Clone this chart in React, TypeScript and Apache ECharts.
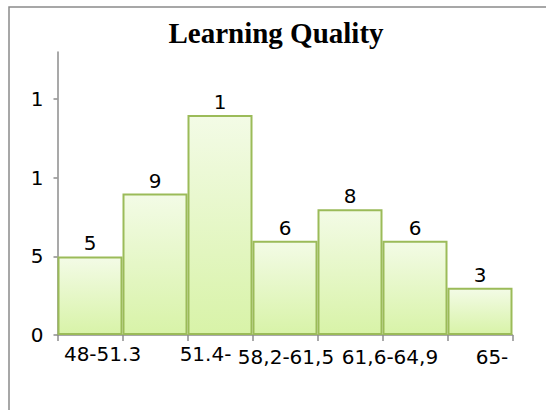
import React, { useEffect, useRef } from "react";
import * as echarts from "echarts";

const titleText = "Learning Quality";
const bins = ["1", "2", "3", "4", "5", "6", "7"];
const tickLabels = ["48-51.3", "", "51.4-", "58,2-61,5", "", "61,6-64,9", "65-"];
const values = [5, 9, 14, 6, 8, 6, 3];
const yTicks = [0, 5, 10, 15];

// per-label nudges [top, right, bottom, left] padding (layout only)
const labelPads: number[][] = [
  [0, 0, 0, 25],
  [3, 0, 0, 0],
  [0, 29, 0, 0],
  [3, 0, 0, 2],
  [3, 0, 0, 0],
  [3, 50, 0, 0],
  [3, 0, 0, 24],
];

export default function App() {
  const ref = useRef<HTMLDivElement>(null);
  useEffect(() => {
    if (!ref.current) return;
    const chart = echarts.init(ref.current, null, { renderer: "svg" });
    const rich: any = {};
    labelPads.forEach((p, i) => {
      rich["r" + i] = {
        padding: p,
        fontFamily: "DejaVu Sans",
        fontSize: 20,
        color: "#000",
      };
    });
    chart.setOption({
      animation: false,
      backgroundColor: "#fff",
      title: {
        text: titleText,
        left: 271,
        textAlign: "center",
        top: 13,
        textStyle: {
          fontFamily: "Liberation Serif",
          fontWeight: "bold",
          fontSize: 29,
          color: "#000",
        },
      },
      graphic: [
        {
          type: "rect",
          shape: { x: 9, y: 7, width: 700, height: 600 },
          style: { fill: "none", stroke: "#8a8a8a", lineWidth: 1.5 },
          silent: true,
          z: -1,
        },
      ],
      grid: { left: 57.5, right: 33.5, top: 52, bottom: 75, containLabel: false },
      xAxis: {
        type: "category",
        data: bins,
        boundaryGap: true,
        axisLine: { show: true, lineStyle: { color: "#8c8c8c", width: 1.5 } },
        axisTick: { show: true, length: 6, alignWithLabel: false, lineStyle: { color: "#8c8c8c", width: 1.5 } },
        axisLabel: {
          interval: 0,
          margin: 9,
          hideOverlap: false,
          formatter: (_v: string, i: number) =>
            tickLabels[i] ? `{r${i}|${tickLabels[i]}}` : "",
          rich,
        },
        splitLine: { show: false },
      },
      yAxis: {
        type: "value",
        min: 0,
        max: 18,
        interval: 5,
        axisLine: { show: true, lineStyle: { color: "#8c8c8c", width: 1.5 } },
        axisTick: {
          show: true,
          length: 4,
          customValues: yTicks,
          lineStyle: { color: "#8c8c8c", width: 1.5 },
        },
        axisLabel: {
          customValues: yTicks,
          margin: 14,
          padding: [8, 0, 0, 0],
          fontFamily: "DejaVu Sans",
          fontSize: 20,
          color: "#000",
          formatter: (v: number) => String(v).charAt(0),
        },
        splitLine: { show: false },
      },
      series: [
        {
          type: "bar",
          data: values,
          barCategoryGap: "0%",
          itemStyle: {
            color: new echarts.graphic.LinearGradient(0, 0, 0, 1, [
              { offset: 0, color: "#f3fbe6" },
              { offset: 1, color: "#d8f3a8" },
            ]),
            borderColor: "#9bbb59",
            borderWidth: 2,
          },
          label: {
            show: true,
            position: "top",
            distance: 3,
            fontFamily: "DejaVu Sans",
            fontSize: 20,
            color: "#000",
            formatter: (p: any) => String(p.value).charAt(0),
          },
        },
      ],
    });
    return () => chart.dispose();
  }, []);
  return (
    <div
      ref={ref}
      style={{ position: "absolute", left: 0, top: 0, width: 546, height: 410 }}
    />
  );
}
